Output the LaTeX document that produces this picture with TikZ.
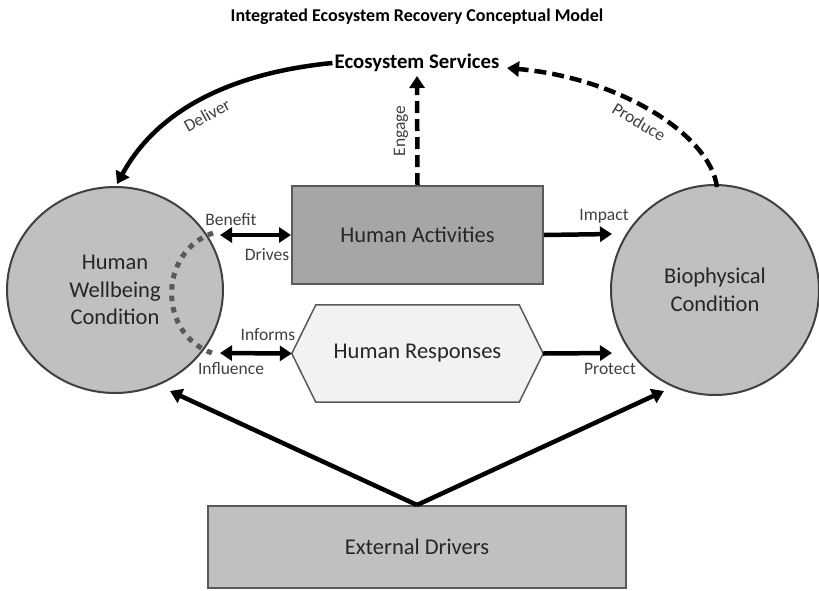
\documentclass[tikz,border=0pt]{standalone}
\usepackage{fontspec}
\setmainfont{Carlito}
\usetikzlibrary{shapes.geometric,arrows.meta,calc}
\definecolor{circfill}{HTML}{C0C0C0}
\definecolor{actfill}{HTML}{A6A6A6}
\definecolor{respfill}{HTML}{F2F2F2}
\definecolor{edge}{HTML}{404040}
\definecolor{boxedge}{HTML}{595959}
\definecolor{labtext}{HTML}{404040}
\begin{document}
\begin{tikzpicture}[x=1pt,y=-1pt,
  circ/.style={ellipse,draw=edge,line width=2pt,fill=circfill,inner sep=0pt,align=center,font=\fontsize{22.5}{27.5}\selectfont,text=black!85},
  boxnode/.style={rectangle,draw=boxedge,line width=2pt,inner sep=0pt,align=center,font=\fontsize{22.5}{27}\selectfont,text=black!85},
  lab/.style={font=\fontsize{17.5}{20}\selectfont,text=labtext,inner sep=0pt},
  arr/.style={line width=4.5pt,-{Triangle[length=12pt,width=15pt]}},
  darr/.style={line width=4.5pt,{Triangle[length=12pt,width=15pt]}-{Triangle[length=12pt,width=15pt]}},
  dasharr/.style={line width=4.5pt,dash pattern=on 12pt off 6pt,-{Triangle[length=12pt,width=15pt]}},
  dotarc/.style={line width=5pt,draw=boxedge,dash pattern=on 5.5pt off 6pt}
]
\useasboundingbox (0,0) rectangle (819,590);

% title
\node[font=\bfseries\fontsize{18}{22}\selectfont] (title) at (417,17) {Integrated Ecosystem Recovery Conceptual Model};
\node[font=\bfseries\fontsize{20.8}{25}\selectfont,inner sep=2pt] (es) at (417,63) {Ecosystem Services};

% main nodes
\node[circ,minimum width=216pt,minimum height=206pt] (hw) at (115,290) {Human\\Wellbeing\\Condition};
\node[circ,minimum width=208pt,minimum height=210pt] (bc) at (715,290) {Biophysical\\Condition};
\node[boxnode,fill=actfill,minimum width=251pt,minimum height=98pt] (ha) at (417.5,235) {Human Activities};
\node[rectangle,inner sep=0pt,minimum width=251pt,minimum height=97pt] (resp) at (417.5,353.5) {};
\draw[draw=boxedge,line width=1.5pt,fill=respfill] (resp.west) -- ($(resp.north west)+(24,0)$) -- ($(resp.north east)+(-24,0)$) -- (resp.east) -- ($(resp.south east)+(-24,0)$) -- ($(resp.south west)+(24,0)$) -- cycle;
\node[font=\fontsize{22.5}{27}\selectfont,text=black!85] (resptext) at (resp.center) {Human Responses};
\node[boxnode,fill=circfill,minimum width=418pt,minimum height=82pt] (ed) at (417,547) {External Drivers};

% coordinates
\coordinate (benl) at (220,235);
\coordinate (infl) at (220,353);
\coordinate (impr) at (612,234);
\coordinate (protr) at (612,353);
\coordinate (hwtop) at (117,184);
\coordinate (bctop) at (717,187);
\coordinate (estip) at (507,68);
\coordinate (esbot) at (417,76);
\coordinate (hwlow) at (170,391);
\coordinate (bclow) at (664,391);
\coordinate (dotA) at (213,233);
\coordinate (dotB) at (212,353);

% dotted arc
\draw[dotarc] (dotA) .. controls (158,252) and (158,334) .. (dotB);

% connectors
\draw[darr] (benl) -- (ha.west);
\draw[darr] (infl) -- (resp.west);
\draw[arr] (ha.east) -- (impr);
\draw[arr] (resp.east) -- (protr);
\draw[dasharr] (ha.north) -- (esbot);
\draw[arr] (es.west) .. controls (240,72) and (160,105) .. (hwtop);
\draw[dasharr] (bctop) .. controls (710,135) and (620,78) .. (estip);
\draw[arr] (ed.north) -- (hwlow);
\draw[arr] (ed.north) -- (bclow);

% labels
\node[lab] (lbenefit) at (231,220) {Benefit};
\node[lab] (ldrives) at (267,255) {Drives};
\node[lab] (linforms) at (268,335) {Informs};
\node[lab] (linfluence) at (231,369) {Influence};
\node[lab] (limpact) at (604,216) {Impact};
\node[lab] (lprotect) at (610,369) {Protect};
\node[lab,rotate=90] (lengage) at (401,131) {Engage};
\node[lab,rotate=-31] (lproduce) at (639,122) {Produce};
\node[lab,rotate=29] (ldeliver) at (207,115) {Deliver};
\end{tikzpicture}
\end{document}
